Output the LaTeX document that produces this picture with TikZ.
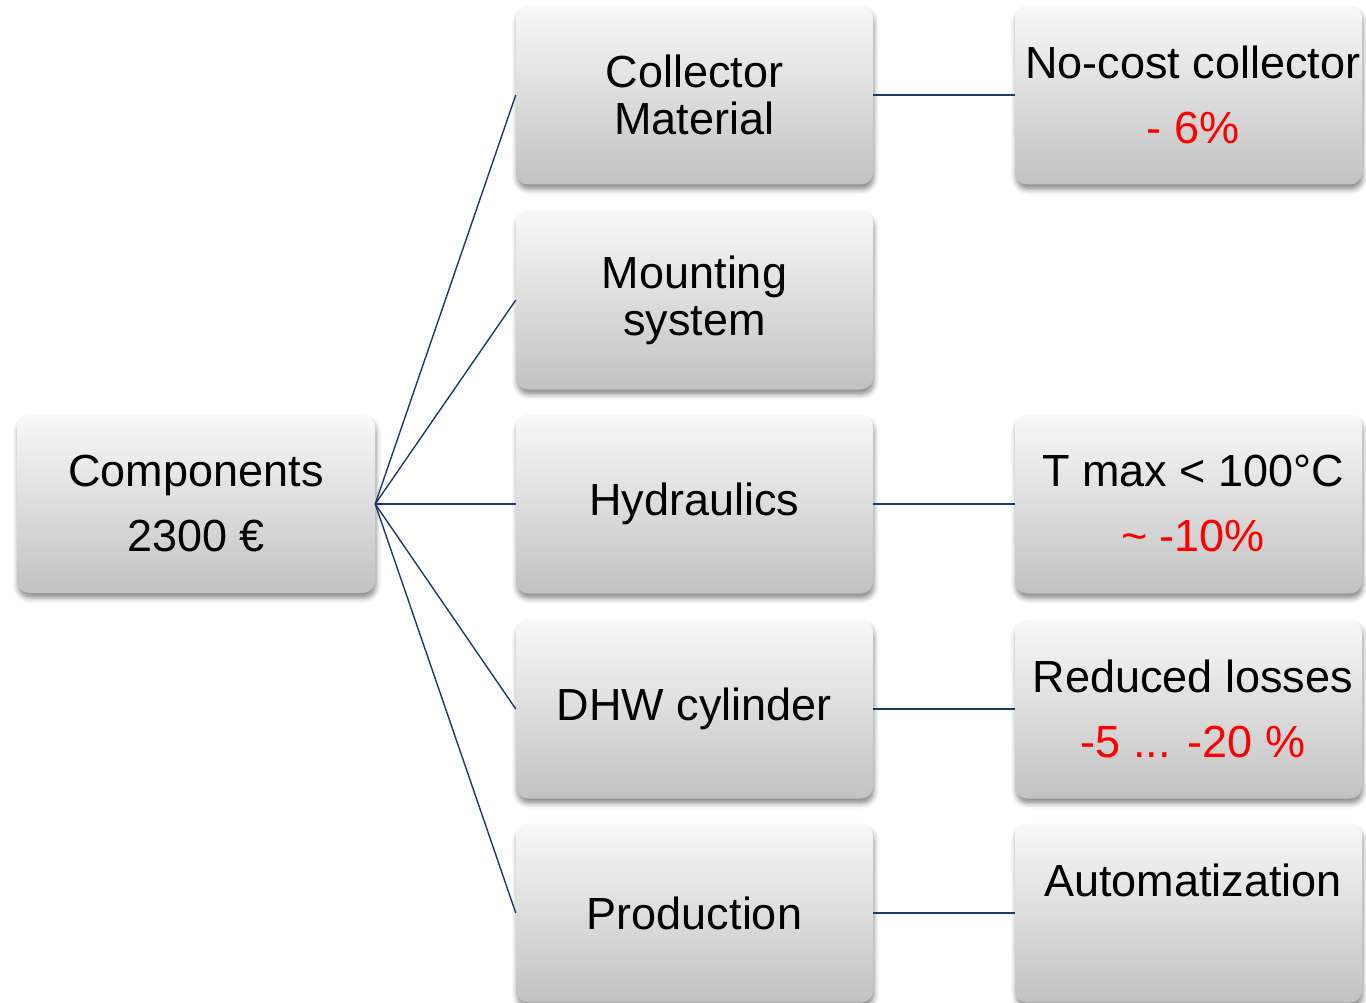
\documentclass[tikz,border=0pt]{standalone}
\usepackage{fontspec}
\setmainfont{Liberation Sans}
\usetikzlibrary{shadows.blur}
\definecolor{linkblue}{HTML}{1F3A68}
\definecolor{boxtop}{HTML}{F8F8F8}
\definecolor{boxbot}{HTML}{C2C2C2}
\definecolor{pctred}{HTML}{FF0000}
\newcommand{\rl}{\hspace*{9pt}}
\tikzset{
  x=1pt, y=1pt,
  box/.style={rounded corners=12pt, top color=boxtop, bottom color=boxbot,
    draw=none, align=center, inner sep=0pt,
    font=\fontsize{45}{47}\selectfont,
    blur shadow={shadow xshift=1pt, shadow yshift=-5pt, shadow blur radius=5pt, shadow opacity=45}},
  leftbox/.style={box, minimum width=358pt, minimum height=178pt},
  midbox/.style={box, minimum width=357pt, minimum height=179pt},
  rightbox/.style={box, minimum width=347pt, minimum height=179pt},
  link/.style={draw=linkblue, line width=1.4pt}
}
\begin{document}
\begin{tikzpicture}
\useasboundingbox (0,0) rectangle (1366,-1003);

% root
\node[leftbox] (comp) at (196,-504) {Components\\[18pt]2300 €};

% component groups
\node[midbox] (coll) at (694.5,-95)  {Collector\\Material};
\node[midbox] (mount) at (694.5,-300) {Mounting\\system};
\node[midbox] (hydr) at (694.5,-504) {Hydraulics};
\node[midbox] (dhw)  at (694.5,-709) {DHW cylinder};
\node[midbox] (prod) at (694.5,-913) {Production};

% savings
\node[rightbox] (nocost) at (1188.5,-95) {\rl No-cost collector\\[18pt]\rl\textcolor{pctred}{- 6\%}};
\node[rightbox] (tmax)   at (1188.5,-504) {\rl T max < 100°C\\[18pt]\rl\textcolor{pctred}{\textasciitilde\ -10\%}};
\node[rightbox] (loss)   at (1188.5,-709) {\rl Reduced losses\\[18pt]\rl\textcolor{pctred}{-5 ... -20 \%}};
\node[rightbox] (auto)   at (1188.5,-913) {\rl Automatization\\[18pt]\mbox{}};

% connectors
\foreach \t in {coll,mount,hydr,dhw,prod}
  \draw[link] (comp.east) -- (\t.west);
\draw[link] (coll.east) -- (nocost.west);
\draw[link] (hydr.east) -- (tmax.west);
\draw[link] (dhw.east)  -- (loss.west);
\draw[link] (prod.east) -- (auto.west);
\end{tikzpicture}
\end{document}
